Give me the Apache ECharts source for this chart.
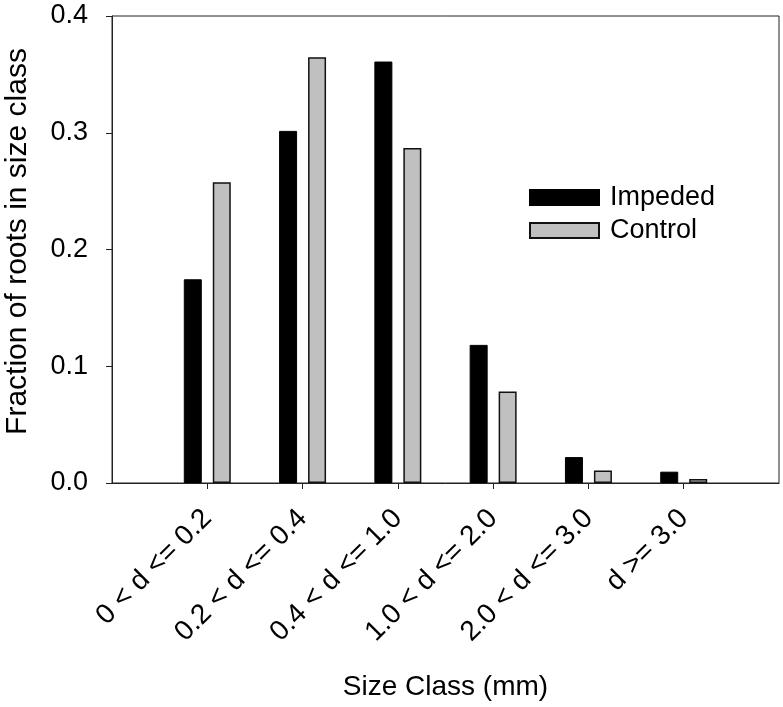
<!DOCTYPE html>
<html>
<head>
<meta charset="utf-8">
<script src="https://cdn.jsdelivr.net/npm/echarts@6/dist/echarts.min.js"></script>
<style>html,body{margin:0;padding:0;background:#fff}#c{width:783px;height:707px}</style>
</head>
<body>
<div id="c"></div>
<script>
var categories = ['0 < d <= 0.2', '0.2 < d <= 0.4', '0.4 < d <= 1.0', '1.0 < d <= 2.0', '2.0 < d <= 3.0', 'd >= 3.0'];
var impeded = [0.1745, 0.3016, 0.361, 0.1183, 0.0222, 0.0097];
var control = [0.2577, 0.3647, 0.287, 0.0784, 0.0108, 0.0034];
var yTicks = [0, 0.1, 0.2, 0.3, 0.4];

// pad with empty slot at each end so category ticks sit at 1..6 of a 0..7 span
var cats = [''].concat(categories).concat(['']);
function pad(a) { return [null].concat(a).concat([null]); }

var chart = echarts.init(document.getElementById('c'), null, {renderer: 'canvas'});
var font = 'Liberation Sans, Arial, sans-serif';
chart.setOption({
  animation: false,
  backgroundColor: '#fff',
  grid: {left: 112, right: 4, top: 16, bottom: 224, containLabel: false, outerBoundsMode: 'none',
    show: true, borderColor: '#222', borderWidth: 1, backgroundColor: 'transparent'},
  legend: {
    orient: 'vertical', left: 524, top: 179, itemWidth: 69, itemHeight: 15, itemGap: 6,
    icon: 'rect',
    textStyle: {fontFamily: font, fontSize: 27, color: '#000', padding: [0, 0, 0, 6]},
    data: ['Impeded', 'Control']
  },
  xAxis: {
    type: 'category', data: cats, boundaryGap: false,
    name: 'Size Class (mm)', nameLocation: 'middle', nameGap: 190,
    nameTextStyle: {fontFamily: font, fontSize: 28, color: '#000'},
    axisLine: {lineStyle: {color: '#222', width: 1}},
    axisTick: {show: true, inside: false, length: 6, lineStyle: {color: '#222'},
      interval: function (i, v) { return v !== ''; }},
    axisLabel: {interval: 0, rotate: 45, margin: 31, fontFamily: font, fontSize: 28, color: '#000'},
    splitLine: {show: false}
  },
  yAxis: {
    type: 'value', min: 0, max: 0.4, interval: 0.1,
    name: 'Fraction of roots in size class', nameLocation: 'middle', nameGap: 79,
    nameTextStyle: {fontFamily: font, fontSize: 30, color: '#000', padding: [0, 0, 0, 16]},
    axisLine: {show: true, lineStyle: {color: '#222', width: 1}},
    axisTick: {show: true, inside: false, length: 6, lineStyle: {color: '#222'}},
    axisLabel: {margin: 24, fontFamily: font, fontSize: 27, color: '#000',
      formatter: function (v) { return yTicks.indexOf(Math.round(v * 10) / 10) >= 0 ? v.toFixed(1) : ''; }},
    splitLine: {show: false}
  },
  series: [
    {name: 'Impeded', type: 'bar', data: pad(impeded), barWidth: 18, barGap: '61%',
      itemStyle: {color: '#000', borderColor: '#000', borderWidth: 1}},
    {name: 'Control', type: 'bar', data: pad(control), barWidth: 18, barGap: '61%',
      itemStyle: {color: '#c0c0c0', borderColor: '#111', borderWidth: 1.5}}
  ]
});
</script>
</body>
</html>
